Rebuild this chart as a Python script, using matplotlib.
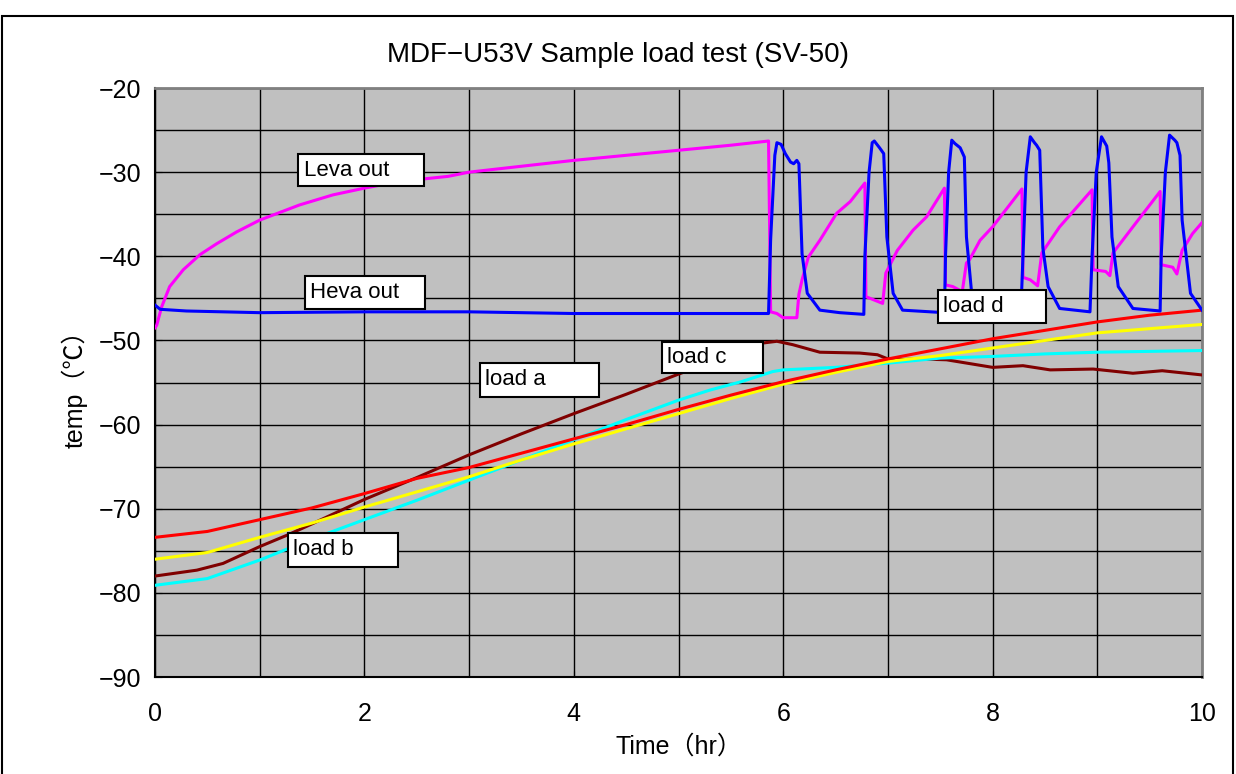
import matplotlib
matplotlib.use('Agg')
import matplotlib.pyplot as plt
from matplotlib.patches import Rectangle
from matplotlib.ticker import MultipleLocator

plt.rcParams['font.family'] = ['Liberation Sans', 'Noto Sans CJK JP', 'DejaVu Sans']

# ---- data (time in hr, temp in degC) ----
# Leva out (magenta)
leva_t = [0.0, 0.016, 0.064, 0.14, 0.27, 0.43, 0.59, 0.78, 1.0, 1.38, 1.7, 2.0, 2.34, 2.8,
          3.0, 3.5, 4.0, 4.5, 5.0, 5.5, 5.86, 5.88, 5.94, 6.0, 6.13, 6.15, 6.18, 6.24,
          6.35, 6.51, 6.64, 6.78, 6.79, 6.85, 6.95, 6.98, 7.09, 7.24, 7.37, 7.54, 7.55,
          7.62, 7.71, 7.75, 7.78, 7.88, 8.0, 8.28, 8.29, 8.36, 8.43, 8.47, 8.64, 8.95,
          8.96, 9.08, 9.12, 9.15, 9.34, 9.6, 9.61, 9.72, 9.76, 9.81, 9.91, 10.0]
leva_v = [-48.5, -48.2, -46.0, -43.6, -41.6, -39.8, -38.5, -37.1, -35.7, -33.9, -32.7,
          -31.9, -31.1, -30.5, -30.0, -29.3, -28.6, -28.0, -27.4, -26.8, -26.3, -46.6,
          -46.8, -47.3, -47.3, -44.5, -42.8, -40.1, -38.1, -34.9, -33.5, -31.3, -44.8,
          -45.1, -45.6, -42.0, -39.3, -36.9, -35.3, -31.9, -43.4, -43.6, -44.2, -40.8,
          -40.4, -38.1, -36.5, -32.0, -42.5, -42.8, -43.5, -39.6, -36.5, -32.1, -41.6,
          -41.8, -42.3, -39.6, -36.5, -32.3, -41.0, -41.3, -42.1, -39.3, -37.3, -36.0]

# Heva out (blue)
heva_t = [0.0, 0.05, 0.3, 1.0, 2.0, 3.0, 4.0, 5.0, 5.86, 5.88, 5.92, 5.94, 5.98, 6.02,
          6.07, 6.10, 6.13, 6.15, 6.18, 6.23, 6.35, 6.54, 6.77, 6.78, 6.82, 6.85, 6.87,
          6.92, 6.96, 6.99, 7.05, 7.14, 7.54, 7.55, 7.58, 7.61, 7.64, 7.69, 7.73, 7.75,
          7.80, 7.9, 8.0, 8.27, 8.29, 8.32, 8.36, 8.40, 8.42, 8.45, 8.48, 8.53, 8.64,
          8.93, 8.95, 8.99, 9.04, 9.09, 9.11, 9.14, 9.20, 9.34, 9.60, 9.61, 9.65, 9.69,
          9.74, 9.76, 9.79, 9.81, 9.89, 10.0]
heva_v = [-45.8, -46.3, -46.5, -46.7, -46.6, -46.6, -46.8, -46.8, -46.8, -38.0, -28.0,
          -26.5, -26.7, -27.8, -28.8, -29.0, -28.6, -29.0, -39.7, -44.4, -46.4, -46.7,
          -46.9, -40.0, -30.0, -26.5, -26.3, -27.1, -27.8, -37.7, -44.4, -46.4, -46.7,
          -40.0, -30.0, -26.2, -26.6, -27.1, -28.2, -37.7, -44.4, -46.0, -46.5, -46.6,
          -40.0, -30.0, -25.8, -26.5, -26.8, -27.4, -39.0, -43.6, -46.2, -46.6, -40.0,
          -30.0, -25.8, -26.9, -28.9, -37.7, -43.6, -46.2, -46.5, -40.0, -30.0, -25.6,
          -26.2, -26.5, -28.0, -35.7, -44.4, -46.4]

# load lines
load_t = [0.0, 0.5, 1.0, 1.5, 2.0, 2.5, 3.0, 3.5, 4.0, 4.5, 5.0, 5.5, 6.0, 6.5, 7.0,
          7.5, 8.0, 8.5, 9.0, 9.5, 10.0]
red_v = [-73.4, -72.7, -71.3, -69.9, -68.2, -66.4, -65.1, -63.4, -61.7, -60.0, -58.2,
         -56.5, -54.9, -53.5, -52.2, -51.0, -49.8, -48.8, -47.8, -47.0, -46.4]
yellow_v = [-76.0, -75.2, -73.4, -71.7, -69.8, -68.0, -66.2, -64.2, -62.3, -60.5, -58.7,
            -56.9, -55.2, -53.8, -52.5, -51.8, -50.9, -50.0, -49.1, -48.6, -48.1]

cyan_t = [0.0, 0.5, 1.0, 1.5, 2.0, 2.5, 3.0, 3.5, 4.0, 4.5, 5.0, 5.3, 5.6, 5.9, 6.0,
          6.5, 7.0, 7.5, 8.0, 8.5, 9.0, 9.5, 10.0]
cyan_v = [-79.1, -78.3, -76.1, -73.6, -71.3, -69.0, -66.6, -64.2, -61.8, -59.4, -57.1,
          -55.9, -54.9, -53.7, -53.5, -53.2, -52.7, -52.1, -51.9, -51.6, -51.4, -51.3,
          -51.2]

brown_t = [0.0, 0.4, 0.65, 1.0, 1.27, 1.5, 2.0, 2.5, 3.0, 3.5, 4.0, 4.5, 5.0, 5.4, 5.81,
           5.94, 6.09, 6.35, 6.73, 6.9, 7.02, 7.3, 7.56, 8.0, 8.29, 8.55, 8.96, 9.34,
           9.62, 10.0]
brown_v = [-78.0, -77.3, -76.5, -74.5, -73.1, -71.8, -68.9, -66.3, -63.6, -61.1, -58.7,
           -56.4, -54.0, -52.2, -50.3, -50.1, -50.5, -51.4, -51.5, -51.7, -52.3, -52.2,
           -52.3, -53.2, -53.0, -53.5, -53.4, -53.9, -53.6, -54.1]

# label boxes: text, left, right, top, bottom (data coords)
labels = [
    ('Leva out', 1.37, 2.57, -27.9, -31.7),
    ('Heva out', 1.43, 2.58, -42.3, -46.3),
    ('load a', 3.10, 4.24, -52.7, -56.7),
    ('load c', 4.84, 5.81, -50.2, -53.9),
    ('load b', 1.27, 2.32, -72.9, -76.9),
    ('load d', 7.48, 8.51, -44.0, -47.9),
]

fig = plt.figure(figsize=(12.36, 7.74), dpi=100)
ax = fig.add_axes([0.1254, 0.1253, 0.8471, 0.7610])
ax.set_facecolor('#c0c0c0')

# 曲线
ax.plot(brown_t, brown_v, color='#800000', lw=2.2, zorder=3)
ax.plot(cyan_t, cyan_v, color='#00ffff', lw=2.2, zorder=3)
ax.plot(load_t, yellow_v, color='#ffff00', lw=2.2, zorder=3)
ax.plot(load_t, red_v, color='#ff0000', lw=2.2, zorder=3)
ax.plot(leva_t, leva_v, color='#ff00ff', lw=2.2, zorder=3)
ax.plot(heva_t, heva_v, color='#0000ff', lw=2.2, zorder=3)

# 标签框
for text, x0, x1, y0, y1 in labels:
    ax.add_patch(Rectangle((x0, y1), x1 - x0, y0 - y1, facecolor='white',
                           edgecolor='black', lw=1.5, zorder=5))
    ax.text(x0 + 0.05, (y0 + y1) / 2, text, fontsize=16, va='center', ha='left', zorder=6)

ax.set_xlim(0, 10)
ax.set_ylim(-90, -20)
ax.xaxis.set_major_locator(MultipleLocator(2))
ax.xaxis.set_minor_locator(MultipleLocator(1))
ax.yaxis.set_major_locator(MultipleLocator(10))
ax.yaxis.set_minor_locator(MultipleLocator(5))
ax.grid(True, which='both', color='black', lw=1, zorder=1)
ax.set_axisbelow(True)
ax.tick_params(axis='both', which='both', direction='in', labelsize=18)
ax.tick_params(axis='x', which='major', length=4, pad=18)
ax.tick_params(axis='x', which='minor', length=0)
ax.tick_params(axis='y', which='both', length=5, pad=10)

for side in ['left', 'bottom']:
    ax.spines[side].set_color('black')
    ax.spines[side].set_linewidth(1.5)
for side in ['top', 'right']:
    ax.spines[side].set_color('#808080')
    ax.spines[side].set_linewidth(2)

ax.set_xlabel('Time（hr）', fontsize=18, labelpad=6)
ax.set_ylabel('temp（℃）', fontsize=18, labelpad=8)

fig.text(0.5, 0.929, 'MDF−U53V Sample load test (SV-50)', fontsize=20,
         ha='center', va='center')

# 外框
fig.patches.append(Rectangle((0.002, -0.05), 0.9955, 1.05 - 16 / 774, transform=fig.transFigure,
                             fill=False, edgecolor='black', lw=1.5))

plt.savefig('out.png', dpi=100)
plt.close(fig)
